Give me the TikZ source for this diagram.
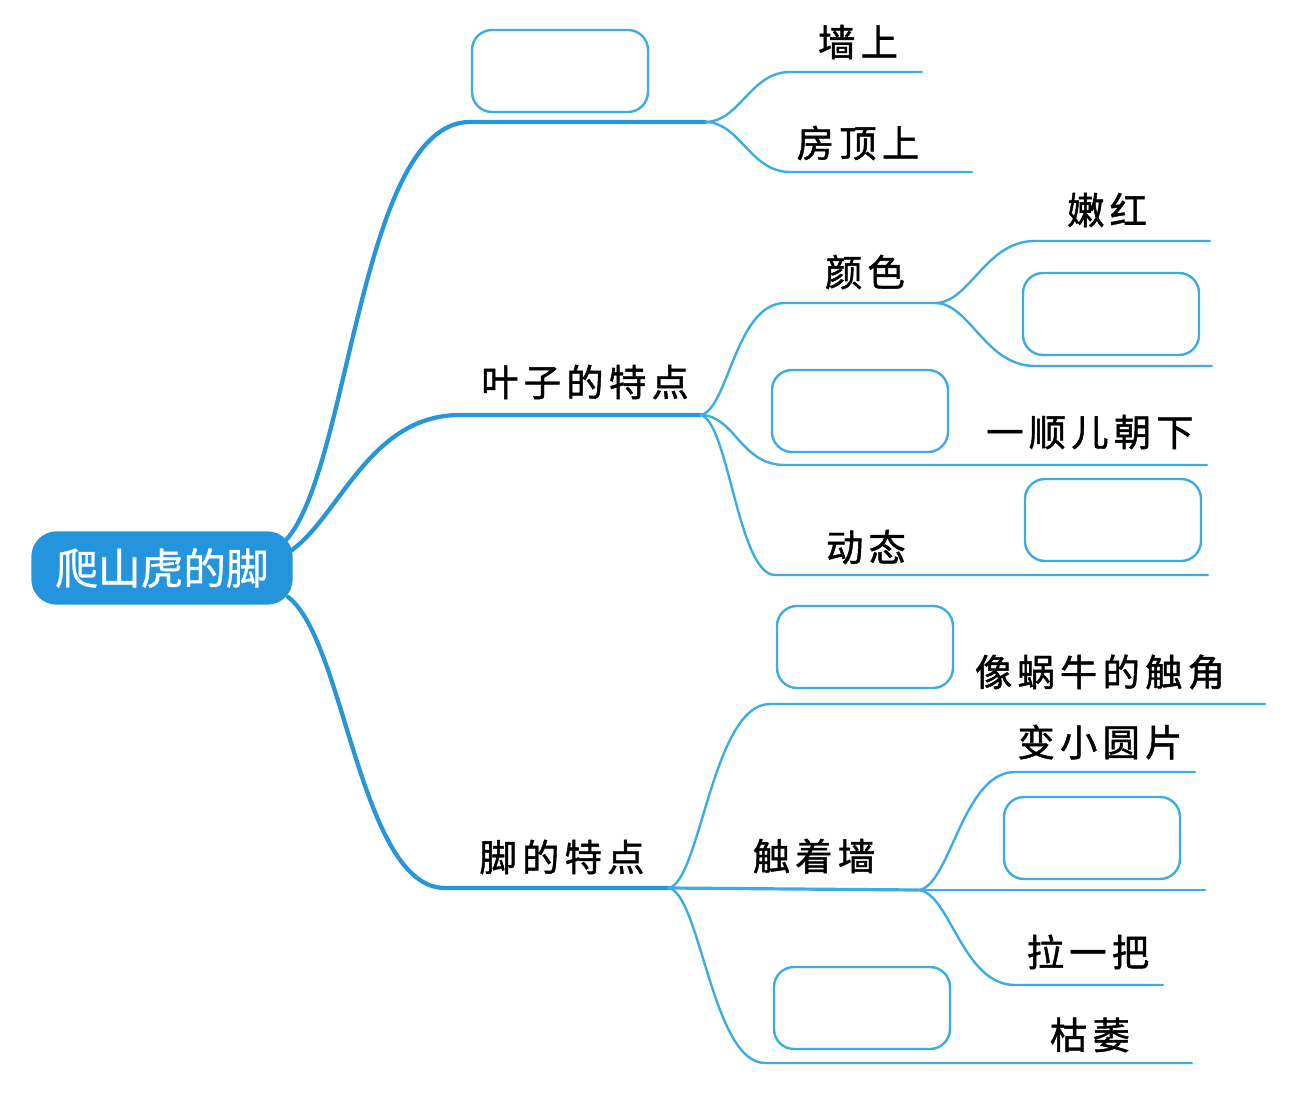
\documentclass[tikz,border=0pt]{standalone}
\usepackage{fontspec}
\newfontfamily\cjk[LetterSpace=14,FakeBold=1.2]{Noto Sans CJK SC}
\newfontfamily\cjkroot[FakeBold=0.8]{Noto Sans CJK SC}
\definecolor{thickblue}{RGB}{38,150,215}
\definecolor{thinblue}{RGB}{60,172,226}
\definecolor{rootblue}{RGB}{36,148,220}
\tikzset{
  thickline/.style={draw=thickblue,line width=3.2pt,line cap=round},
  midline/.style={draw=thinblue,line width=2.4pt,line cap=round},
  thinline/.style={draw=thinblue,line width=1.8pt,line cap=round},
  answer/.style={draw=thinblue,line width=1.8pt,rounded corners=15pt,minimum width=132pt,minimum height=61.5pt,inner sep=0pt},
  lbl/.style={font=\cjk\fontsize{28}{30}\selectfont,text=black,inner sep=0pt},
  rootbox/.style={fill=rootblue,rounded corners=19pt,minimum width=196pt,minimum height=55pt,text=white,font=\cjkroot\fontsize{32}{34}\selectfont,inner sep=0pt}
}
\begin{document}
\begin{tikzpicture}[x=0.75pt,y=-0.75pt]
\useasboundingbox (0,0) rectangle (1297,1094);
% root
\node[rootbox] (root) at (162,568) {爬山虎的脚};
\coordinate (r1) at (286,540);
\coordinate (r2) at (292,550);
\coordinate (r3) at (288,597);
% branch 1
\coordinate (h1) at (470,122);
\coordinate (j1) at (705,122);
\coordinate (a1) at (790,72);
\coordinate (a1e) at (922,72);
\coordinate (a2) at (790,172);
\coordinate (a2e) at (972,172);
\draw[thickline] (r1) .. controls (350,470) and (360,122) .. (h1) -- (j1);
\draw[thinline] (j1) .. controls (740,122) and (750,72) .. (a1) -- (a1e);
\draw[thinline] (j1) .. controls (740,122) and (750,172) .. (a2) -- (a2e);
\node[answer] (b1) at (560,71) {};
\node[lbl] (t11) at (858,42) {墙上};
\node[lbl] (t12) at (858,143) {房顶上};
% branch 2
\coordinate (h2) at (460,415);
\coordinate (j2) at (700,415);
\draw[thickline] (r2) .. controls (340,515) and (370,415) .. (h2) -- (j2);
\node[lbl] (t2) at (585,382) {叶子的特点};
\coordinate (c1) at (785,303);
\coordinate (jc) at (935,303);
\draw[thinline] (j2) .. controls (728,412) and (735,303) .. (c1) -- (jc);
\node[lbl] (tc) at (865,272) {颜色};
\coordinate (d1) at (1035,241);
\coordinate (d1e) at (1210,241);
\coordinate (d2) at (1035,366);
\coordinate (d2e) at (1212,366);
\draw[thinline] (jc) .. controls (970,303) and (985,241) .. (d1) -- (d1e);
\draw[thinline] (jc) .. controls (970,303) and (985,366) .. (d2) -- (d2e);
\node[lbl] (td1) at (1107,210) {嫩红};
\node[answer] (b2) at (1111,314) {};
\coordinate (c2) at (785,465);
\coordinate (c2e) at (1207,465);
\draw[thinline] (j2) .. controls (735,415) and (740,465) .. (c2) -- (c2e);
\node[answer] (b3) at (860,411) {};
\node[lbl] (tc2) at (1090,432) {一顺儿朝下};
\coordinate (c3) at (775,575);
\coordinate (c3e) at (1208,575);
\draw[thinline] (j2) .. controls (728,418) and (738,575) .. (c3) -- (c3e);
\node[lbl] (tc3) at (866,547) {动态};
\node[answer] (b4) at (1113,520) {};
% branch 3
\coordinate (h3) at (445,888);
\coordinate (j3) at (668,888);
\draw[thickline] (r3) .. controls (345,640) and (360,888) .. (h3) -- (j3);
\node[lbl] (t3) at (562,857) {脚的特点};
\coordinate (e1) at (770,704);
\coordinate (e1e) at (1265,704);
\draw[thinline] (j3) .. controls (700,885) and (712,704) .. (e1) -- (e1e);
\node[answer] (b5) at (865,647) {};
\node[lbl] (te1) at (1100,672) {像蜗牛的触角};
\coordinate (jt) at (918,890);
\draw[midline] (j3) -- (jt);
\node[lbl] (tt) at (814,856) {触着墙};
\coordinate (f1) at (1015,772);
\coordinate (f1e) at (1195,772);
\coordinate (f2e) at (1205,890);
\coordinate (f3) at (1015,985);
\coordinate (f3e) at (1163,985);
\draw[thinline] (jt) .. controls (950,888) and (962,772) .. (f1) -- (f1e);
\draw[thinline] (jt) -- (f2e);
\draw[thinline] (jt) .. controls (950,892) and (962,985) .. (f3) -- (f3e);
\node[lbl] (tf1) at (1100,742) {变小圆片};
\node[answer] (b6) at (1092,838) {};
\node[lbl] (tf3) at (1088,952) {拉一把};
\coordinate (e3) at (765,1063);
\coordinate (e3e) at (1192,1063);
\draw[thinline] (j3) .. controls (700,891) and (712,1063) .. (e3) -- (e3e);
\node[answer] (b7) at (862,1008) {};
\node[lbl] (te3) at (1090,1035) {枯萎};
\end{tikzpicture}
\end{document}
